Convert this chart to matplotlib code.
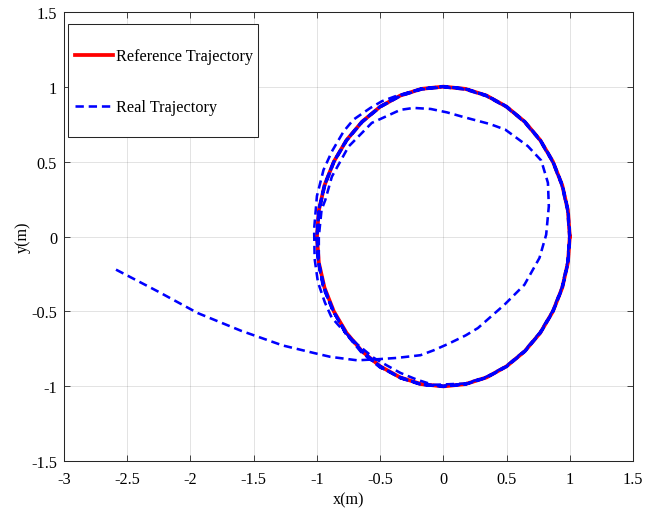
import matplotlib
matplotlib.use("Agg")
import matplotlib.pyplot as plt
from matplotlib.patches import Rectangle

# Reference trajectory: unit circle (10 deg steps)
ref_x = [1.0, 0.985, 0.940, 0.866, 0.766, 0.643, 0.5, 0.342, 0.174, 0.0,
         -0.174, -0.342, -0.5, -0.643, -0.766, -0.866, -0.940, -0.985, -1.0,
         -0.985, -0.940, -0.866, -0.766, -0.643, -0.5, -0.342, -0.174, 0.0,
         0.174, 0.342, 0.5, 0.643, 0.766, 0.866, 0.940, 0.985, 1.0]
ref_y = [0.0, 0.174, 0.342, 0.5, 0.643, 0.766, 0.866, 0.940, 0.985, 1.0,
         0.985, 0.940, 0.866, 0.766, 0.643, 0.5, 0.342, 0.174, 0.0,
         -0.174, -0.342, -0.5, -0.643, -0.766, -0.866, -0.940, -0.985, -1.0,
         -0.985, -0.940, -0.866, -0.766, -0.643, -0.5, -0.342, -0.174, 0.0]

# Real trajectory, piece by piece
# approach from the start point, then the inner loop
approach_x = [-2.589, -2.259, -1.942, -1.600, -1.270, -1.020, -0.893, -0.682, -0.524,
              -0.366, -0.181, -0.076, 0.042, 0.176, 0.273, 0.483, 0.641, 0.760, 0.813,
              0.834, 0.827, 0.774, 0.668, 0.490, 0.370, 0.160, 0.030, -0.100, -0.235,
              -0.340, -0.566, -0.750, -0.882, -0.934, -0.963, -0.985, -0.985]
approach_y = [-0.221, -0.366, -0.511, -0.629, -0.727, -0.778, -0.803, -0.826, -0.819,
              -0.810, -0.792, -0.759, -0.715, -0.660, -0.611, -0.455, -0.322, -0.143, 0.012,
              0.202, 0.358, 0.507, 0.603, 0.713, 0.750, 0.797, 0.828, 0.851, 0.858,
              0.845, 0.758, 0.600, 0.399, 0.243, 0.180, 0.000, -0.170]

# first pass along the circle (200 deg -> 100 deg)
lap1_x = [-0.940, -0.866, -0.766, -0.643, -0.500, -0.342, -0.174, 0.0, 0.174, 0.342,
          0.500, 0.643, 0.766, 0.866, 0.940, 0.985, 1.0, 0.985, 0.940, 0.866,
          0.766, 0.643, 0.500, 0.342, 0.174, 0.0, -0.174]
lap1_y = [-0.342, -0.500, -0.643, -0.766, -0.866, -0.940, -0.985, -1.0, -0.985, -0.940,
          -0.866, -0.766, -0.643, -0.500, -0.342, -0.174, 0.0, 0.174, 0.342, 0.500,
          0.643, 0.766, 0.866, 0.940, 0.985, 1.0, 0.985]

# excursion outside the circle on the left, back in at the bottom
excursion_x = [-0.366, -0.485, -0.577, -0.711, -0.789, -0.882, -0.948, -1.000, -1.022,
               -1.018, -0.992, -0.937, -0.884, -0.800, -0.680, -0.550, -0.445, -0.340,
               -0.210, -0.080]
excursion_y = [0.940, 0.903, 0.858, 0.780, 0.701, 0.567, 0.444, 0.270, 0.050,
               -0.150, -0.305, -0.440, -0.540, -0.620, -0.720, -0.810, -0.861, -0.910,
               -0.955, -0.990]

# converged laps (280 deg -> 270 deg)
lap2_x = [0.173, 0.341, 0.498, 0.640, 0.763, 0.863, 0.936, 0.981, 0.996, 0.981,
          0.936, 0.863, 0.763, 0.640, 0.498, 0.341, 0.173, 0.0, -0.173, -0.341,
          -0.498, -0.640, -0.763, -0.863, -0.936, -0.981, -0.996, -0.985, -0.944,
          -0.872, -0.770, -0.640, -0.498, -0.341, -0.173, 0.0]
lap2_y = [-0.981, -0.936, -0.863, -0.763, -0.640, -0.498, -0.341, -0.173, 0.0, 0.173,
          0.341, 0.498, 0.640, 0.763, 0.863, 0.936, 0.981, 0.996, 0.981, 0.936,
          0.863, 0.763, 0.640, 0.498, 0.341, 0.173, 0.0, -0.176, -0.340,
          -0.497, -0.645, -0.770, -0.866, -0.945, -0.985, -0.996]

lap3_x = [0.175, 0.343, 0.501, 0.644, 0.768, 0.868, 0.942, 0.987, 1.002, 0.987,
          0.942, 0.868, 0.768, 0.644, 0.501, 0.343, 0.175, 0.0, -0.175, -0.343,
          -0.501, -0.644, -0.768, -0.868, -0.942, -0.987, -1.002, -0.992, -0.945,
          -0.880, -0.770, -0.652, -0.503, -0.350, -0.172, 0.0]
lap3_y = [-0.987, -0.942, -0.868, -0.768, -0.644, -0.501, -0.343, -0.175, 0.0, 0.175,
          0.343, 0.501, 0.644, 0.768, 0.868, 0.942, 0.987, 1.002, 0.987, 0.942,
          0.868, 0.768, 0.644, 0.501, 0.343, 0.175, 0.0, -0.168, -0.345,
          -0.488, -0.648, -0.770, -0.873, -0.935, -0.990, -1.0]

lap4_x = [0.174, 0.341, 0.499, 0.642, 0.765, 0.865, 0.939, 0.984, 0.999, 0.984,
          0.939, 0.865, 0.765, 0.642, 0.499, 0.341, 0.174, 0.0, -0.174, -0.341,
          -0.499, -0.642, -0.765, -0.865, -0.939, -0.984, -0.999, -0.990, -0.950,
          -0.862, -0.772, -0.636, -0.503, -0.337, -0.176, 0.0]
lap4_y = [-0.984, -0.939, -0.865, -0.765, -0.642, -0.499, -0.341, -0.174, 0.0, 0.174,
          0.341, 0.499, 0.642, 0.765, 0.865, 0.939, 0.984, 0.999, 0.984, 0.939,
          0.865, 0.765, 0.642, 0.499, 0.341, 0.174, 0.0, -0.170, -0.345,
          -0.512, -0.650, -0.775, -0.870, -0.946, -0.990, -0.999]

# last, partial lap (280 deg -> 180 deg)
lap5_x = [0.174, 0.343, 0.501, 0.644, 0.767, 0.867, 0.941, 0.986, 1.001, 0.986,
          0.941, 0.867, 0.767, 0.644, 0.501, 0.343, 0.174, 0.0, -0.174, -0.343,
          -0.501, -0.644, -0.767, -0.867, -0.941, -0.986, -1.001]
lap5_y = [-0.986, -0.941, -0.867, -0.767, -0.644, -0.501, -0.343, -0.174, 0.0, 0.174,
          0.343, 0.501, 0.644, 0.767, 0.867, 0.941, 0.986, 1.001, 0.986, 0.941,
          0.867, 0.767, 0.644, 0.501, 0.343, 0.174, 0.0]

real_x = approach_x + lap1_x + excursion_x + lap2_x + lap3_x + lap4_x + lap5_x
real_y = approach_y + lap1_y + excursion_y + lap2_y + lap3_y + lap4_y + lap5_y

x_ticks = [-3, -2.5, -2, -1.5, -1, -0.5, 0, 0.5, 1, 1.5]
x_labels = ['-3', '-2.5', '-2', '-1.5', '-1', '-0.5', '0', '0.5', '1', '1.5']
y_ticks = [-1.5, -1, -0.5, 0, 0.5, 1, 1.5]
y_labels = ['-1.5', '-1', '-0.5', '0', '0.5', '1', '1.5']

plt.rcParams['font.family'] = ['Liberation Serif', 'DejaVu Serif']
plt.rcParams['font.size'] = 11.7
plt.rcParams['axes.unicode_minus'] = False
plt.rcParams['lines.scale_dashes'] = False

fig = plt.figure(figsize=(6.56, 5.10), dpi=100)
ax = fig.add_axes([0.0976, 0.0935, 0.8674, 0.8816])

dark = (0.15, 0.15, 0.15)
ax.plot(ref_x, ref_y, color='red', linewidth=2.7, label='Reference Trajectory')
ax.plot(real_x, real_y, color='blue', linewidth=1.85, linestyle=(0, (6, 3.5)),
        label='Real Trajectory')

ax.set_xlim(-3, 1.5)
ax.set_ylim(-1.5, 1.5)
ax.set_xticks(x_ticks)
ax.set_xticklabels(x_labels)
ax.set_yticks(y_ticks)
ax.set_yticklabels(y_labels)
ax.set_xlabel('x(m)', labelpad=3)
ax.set_ylabel('y(m)', labelpad=0.5)

ax.grid(True, color=dark, alpha=0.15, linewidth=0.6)
ax.set_axisbelow(True)
ax.tick_params(direction='in', top=True, right=True, length=4.5, width=0.6,
               colors=dark, labelcolor='black')
ax.tick_params(axis='x', pad=7)
ax.tick_params(axis='y', pad=5)
for sp in ax.spines.values():
    sp.set_color(dark)
    sp.set_linewidth(0.75)

# legend box drawn by hand so the rows can sit far apart, as in MATLAB
box = Rectangle((0.007, 0.7213), 0.334, 0.2514, transform=ax.transAxes,
                facecolor='white', edgecolor=dark, linewidth=0.75, zorder=4.5)
ax.add_patch(box)
leg = ax.legend(loc='upper left', bbox_to_anchor=(0.0193, 0.9185), borderaxespad=0,
                frameon=False, fontsize=11.7, handlelength=2.34, handletextpad=0.18,
                borderpad=0, labelspacing=2.15)
leg.set_zorder(5)

fig.savefig('out.png', dpi=100, facecolor='white')
